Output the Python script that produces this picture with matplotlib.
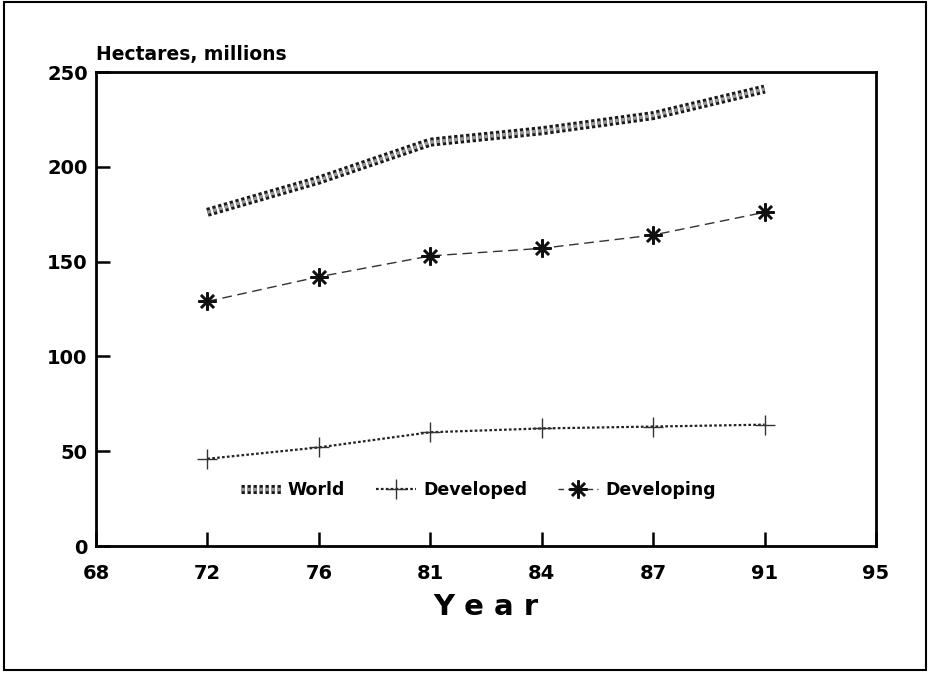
import matplotlib
matplotlib.use('Agg')
import matplotlib.pyplot as plt
import matplotlib.patheffects as pe
from matplotlib.patches import Rectangle
from matplotlib.lines import Line2D

# Irrigated area, hectares (millions)
years      = ['68', '72', '76', '81', '84', '87', '91', '95']
data_years = ['72', '76', '81', '84', '87', '91']
world      = [176, 193, 213, 219, 227, 241]
developed  = [46, 52, 60, 62, 63, 64]
developing = [129, 142, 153, 157, 164, 176]
y_ticks    = [0, 50, 100, 150, 200, 250]

plt.rcParams['font.family'] = ['DejaVu Sans']
plt.rcParams['font.weight'] = 'bold'

fig = plt.figure(figsize=(9.31, 6.73), dpi=100)
ax = fig.add_axes([96 / 931, 1 - 546 / 673, 780 / 931, 474 / 673])

# year labels sit on evenly spaced slots
pos = {y: i for i, y in enumerate(years)}
xs = [pos[y] for y in data_years]

# "rope" look for the world series: dark outline, beaded grey core
world_fx = [pe.Stroke(linewidth=6.5, foreground='#1a1a1a'), pe.Normal()]
world_kw = dict(color='#9a9a9a', lw=2.4, ls=(0, (1.0, 0.8)),
                path_effects=world_fx, solid_capstyle='butt')
ax.plot(xs, world, **world_kw)
ax.plot(xs, developed, color='#222222', lw=1.6, ls=(0, (1.2, 1.0)),
        marker='+', ms=14, mew=1.0, mec='#333333')
ax.plot(xs, developing, color='#333333', lw=1.0, ls=(0, (7, 4)),
        marker=(8, 2, 0), ms=13, mew=1.8, mec='#111111')

ax.set_xlim(0, len(years) - 1)
ax.set_ylim(0, 250)
ax.set_xticks(range(len(years)))
ax.set_xticklabels(years)
ax.set_yticks(y_ticks)
ax.tick_params(direction='in', length=10, width=1.8, labelsize=14)
ax.tick_params(axis='x', pad=13)
ax.tick_params(axis='y', pad=6)
for lab in ax.get_xticklabels() + ax.get_yticklabels():
    lab.set_fontweight('bold')
for sp in ax.spines.values():
    sp.set_linewidth(2.0)

ax.set_xlabel('Y e a r', fontsize=21, fontweight='bold', labelpad=7)
ax.text(0, 1.017, 'Hectares, millions', transform=ax.transAxes,
        fontsize=13.5, fontweight='bold', ha='left', va='bottom')

handles = [
    Line2D([], [], **world_kw),
    Line2D([], [], color='#222222', lw=1.6, ls=(0, (1.2, 1.0)),
           marker='+', ms=14, mew=1.0, mec='#333333'),
    Line2D([], [], color='#333333', lw=1.0, ls=(0, (4, 3)),
           marker=(8, 2, 0), ms=13, mew=1.8, mec='#111111'),
]
leg = ax.legend(handles, ['World', 'Developed', 'Developing'], ncol=3,
                frameon=False, loc='center', bbox_to_anchor=(0.49, 0.118),
                prop={'size': 12.5, 'weight': 'bold'}, handlelength=2.3,
                handletextpad=0.4, columnspacing=1.8)

# page border
fig.patches.append(Rectangle((0.004, 0.005), 0.991, 0.992,
                             transform=fig.transFigure, fill=False,
                             lw=1.5, ec='black'))

fig.savefig('out.png', dpi=100)
